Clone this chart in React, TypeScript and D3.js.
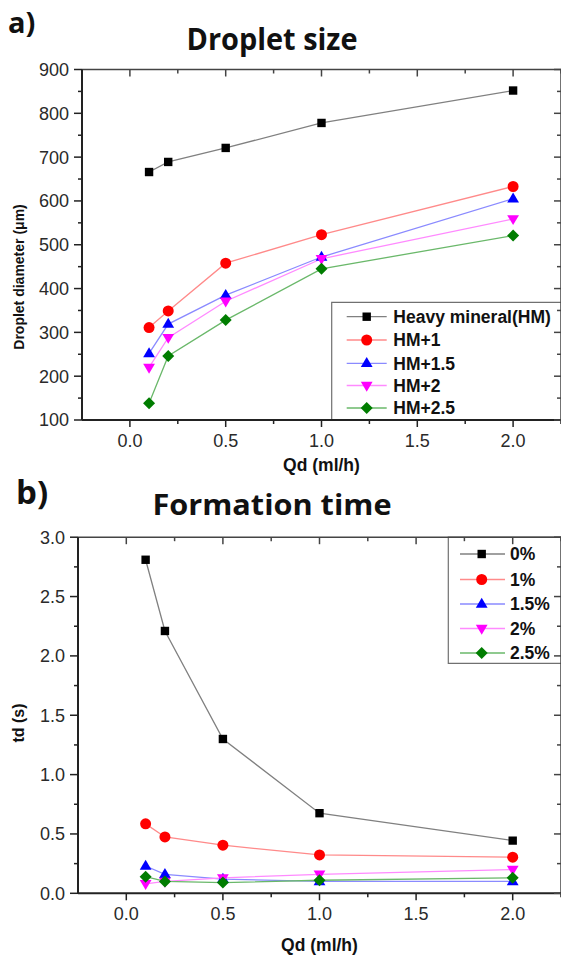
import React from "react";
import * as d3 from "d3";

const qd = [0.1, 0.2, 0.5, 1.0, 2.0];

const sizeNames = ["Heavy mineral(HM)", "HM+1", "HM+1.5", "HM+2", "HM+2.5"];
const sizeHM = [666, 689, 721, 778, 852];
const sizeHM1 = [311, 349, 458, 523, 633];
const sizeHM15 = [252, 319, 385, 472, 605];
const sizeHM2 = [220, 288, 371, 468, 559];
const sizeHM25 = [138, 246, 328, 445, 521];

const timeNames = ["0%", "1%", "1.5%", "2%", "2.5%"];
const time0 = [2.81, 2.21, 1.30, 0.675, 0.444];
const time1 = [0.585, 0.475, 0.405, 0.323, 0.304];
const time15 = [0.23, 0.16, 0.12, 0.10, 0.10];
const time2 = [0.08, 0.10, 0.13, 0.16, 0.20];
const time25 = [0.14, 0.10, 0.09, 0.11, 0.13];

const xTicks = [0.0, 0.5, 1.0, 1.5, 2.0];
const yTicksA = [100, 200, 300, 400, 500, 600, 700, 800, 900];
const yTicksB = [0.0, 0.5, 1.0, 1.5, 2.0, 2.5, 3.0];

const markerColors = ["#000000", "#ff0000", "#0000ff", "#ff00ff", "#007d00"];
const lineColors = ["#808080", "#ff8a8a", "#8a8aff", "#ff8aff", "#6ab86a"];
const shapes = ["square", "circle", "triangle", "down", "diamond"];

function markerPath(shape: string, cx: number, cy: number): string {
  const p = d3.path();
  if (shape === "square") {
    const h = 4.2;
    p.rect(cx - h, cy - h, 2 * h, 2 * h);
  } else if (shape === "circle") {
    p.arc(cx, cy, 5.5, 0, Math.PI * 2);
  } else if (shape === "triangle") {
    const s = 6.2;
    p.moveTo(cx, cy - s);
    p.lineTo(cx + s * 0.95, cy + s * 0.6);
    p.lineTo(cx - s * 0.95, cy + s * 0.6);
    p.closePath();
  } else if (shape === "down") {
    const s = 6.2;
    p.moveTo(cx, cy + s);
    p.lineTo(cx + s * 0.95, cy - s * 0.6);
    p.lineTo(cx - s * 0.95, cy - s * 0.6);
    p.closePath();
  } else {
    const s = 6;
    p.moveTo(cx, cy - s);
    p.lineTo(cx + s, cy);
    p.lineTo(cx, cy + s);
    p.lineTo(cx - s, cy);
    p.closePath();
  }
  return p.toString();
}

type PanelProps = {
  series: number[][];
  names: string[];
  x: d3.ScaleLinear<number, number>;
  y: d3.ScaleLinear<number, number>;
  yTicks: number[];
  yMinor: number[];
  yFmt: (v: number) => string;
  yLabel: string;
  yLabelSize: number;
  yLabelX: number;
  yLabelY: number;
  xTickLabelY: number;
  xLabelY: number;
  legendClosed: boolean;
  legend: { x0: number; y0: number; y1: number; rowY: number[]; lineX0: number; lineX1: number; mX: number; textX: number };
};

function Panel(p: PanelProps) {
  const { x, y } = p;
  const [x0, x1] = x.range();
  const [yb, yt] = y.range();
  const xMinor = d3.range(0, 2.26, 0.25);
  const line = d3.line<number>().x((_, i) => x(qd[i])).y((d) => y(d));
  const tickFont = "'Liberation Sans', Arial, sans-serif";
  return (
    <g>
      {p.series.map((s, si) => (
        <path key={"l" + si} d={line(s) || ""} fill="none" stroke={lineColors[si]} strokeWidth={1.3} />
      ))}
      {p.series.map((s, si) =>
        s.map((v, i) => (
          <path key={"m" + si + "-" + i} d={markerPath(shapes[si], x(qd[i]), y(v))} fill={markerColors[si]} />
        ))
      )}
      <path
        d={`M${x1},${p.legend.y0}H${p.legend.x0}V${p.legend.y1}${p.legendClosed ? "H" + x1 : ""}`}
        fill="none"
        stroke="#707070"
        strokeWidth={1.2}
      />
      {p.names.map((n, i) => (
        <g key={"lg" + i}>
          <line x1={p.legend.lineX0} x2={p.legend.lineX1} y1={p.legend.rowY[i]} y2={p.legend.rowY[i]} stroke={lineColors[i]} strokeWidth={1.3} />
          <path d={markerPath(shapes[i], p.legend.mX, p.legend.rowY[i])} fill={markerColors[i]} />
          <text x={p.legend.textX} y={p.legend.rowY[i]} dy="0.36em" fontFamily={tickFont} fontWeight="bold" fontSize={17.5} fill="#111">
            {n}
          </text>
        </g>
      ))}
      <line x1={x0} x2={x1} y1={yt} y2={yt} stroke="#444" strokeWidth={1.5} />
      <line x1={x1} x2={x1} y1={yt} y2={yb} stroke="#444" strokeWidth={1.5} />
      <line x1={x0} x2={x1} y1={yb} y2={yb} stroke="#222" strokeWidth={2} />
      <line x1={x0} x2={x0} y1={yt} y2={yb} stroke="#222" strokeWidth={2} />
      {xMinor.map((t, i) => {
        const major = Math.abs(t * 2 - Math.round(t * 2)) < 1e-6;
        const len = major ? 7 : 4;
        return (
          <g key={"xt" + i}>
            <line x1={x(t)} x2={x(t)} y1={yb} y2={yb + len} stroke="#222" strokeWidth={1.5} />
            <line x1={x(t)} x2={x(t)} y1={yt} y2={yt + len} stroke="#444" strokeWidth={1.5} />
          </g>
        );
      })}
      {xTicks.map((t) => (
        <text key={"xl" + t} x={x(t)} y={p.xTickLabelY} textAnchor="middle" fontFamily={tickFont} fontSize={18} fill="#2a2a2a">
          {t.toFixed(1)}
        </text>
      ))}
      {p.yMinor.map((t, i) => (
        <g key={"ym" + i}>
          <line x1={x0 - 4} x2={x0} y1={y(t)} y2={y(t)} stroke="#222" strokeWidth={1.5} />
          <line x1={x1 - 4} x2={x1} y1={y(t)} y2={y(t)} stroke="#444" strokeWidth={1.5} />
        </g>
      ))}
      {p.yTicks.map((t) => (
        <g key={"yt" + t}>
          <line x1={x0 - 8} x2={x0} y1={y(t)} y2={y(t)} stroke="#222" strokeWidth={1.5} />
          <line x1={x1 - 7} x2={x1} y1={y(t)} y2={y(t)} stroke="#444" strokeWidth={1.5} />
          <text x={x0 - 13} y={y(t)} dy="0.36em" textAnchor="end" fontFamily={tickFont} fontSize={18} fill="#2a2a2a">
            {p.yFmt(t)}
          </text>
        </g>
      ))}
      <text
        transform={`translate(${p.yLabelX},${p.yLabelY}) rotate(-90)`}
        textAnchor="middle"
        fontFamily={tickFont}
        fontWeight="bold"
        fontSize={p.yLabelSize}
        fill="#111"
      >
        {p.yLabel}
      </text>
      <text x={(x0 + x1) / 2} y={p.xLabelY} textAnchor="middle" fontFamily={tickFont} fontWeight="bold" fontSize={17.5} fill="#111">
        Qd (ml/h)
      </text>
    </g>
  );
}

export default function App() {
  const xA = d3.scaleLinear().domain([-0.25, 2.25]).range([82, 561]);
  const yA = d3.scaleLinear().domain([100, 900]).range([420, 69.5]);
  const xB = d3.scaleLinear().domain([-0.25, 2.25]).range([78, 561]);
  const yB = d3.scaleLinear().domain([0, 3]).range([893.3, 537.2]);
  const titleFont = "'Open Sans', 'Noto Sans', sans-serif";
  return (
    <svg width={561} height={955} style={{ position: "absolute", left: 0, top: 0, background: "#fff" }}>
      <rect x={0} y={0} width={561} height={955} fill="#fff" />
      <text x={8} y={33} fontFamily={titleFont} fontWeight="bold" fontSize={29} fill="#111">a)</text>
      <text x={272} y={50} textAnchor="middle" fontFamily={titleFont} fontWeight="bold" fontSize={30} textLength={171} lengthAdjust="spacingAndGlyphs" fill="#111">
        Droplet size
      </text>
      <text x={16} y={504} fontFamily={titleFont} fontWeight="bold" fontSize={33} fill="#111">b)</text>
      <text x={272} y={515} textAnchor="middle" fontFamily={titleFont} fontWeight="bold" fontSize={29} textLength={239} lengthAdjust="spacingAndGlyphs" fill="#111">
        Formation time
      </text>
      <Panel
        series={[sizeHM, sizeHM1, sizeHM15, sizeHM2, sizeHM25]}
        names={sizeNames}
        x={xA}
        y={yA}
        yTicks={yTicksA}
        yMinor={d3.range(150, 900, 100)}
        yFmt={(v) => String(v)}
        yLabel="Droplet diameter (μm)"
        yLabelSize={14}
        yLabelX={24}
        yLabelY={277}
        xTickLabelY={447}
        xLabelY={471}
        legendClosed={false}
        legend={{ x0: 331.7, y0: 302.3, y1: 420, rowY: [316.7, 340, 363.3, 385.5, 408], lineX0: 346.7, lineX1: 386.7, mX: 366.7, textX: 393.3 }}
      />
      <Panel
        series={[time0, time1, time15, time2, time25]}
        names={timeNames}
        x={xB}
        y={yB}
        yTicks={yTicksB}
        yMinor={d3.range(0.25, 3, 0.5)}
        yFmt={(v) => v.toFixed(1)}
        yLabel="td (s)"
        yLabelSize={16}
        yLabelX={24}
        yLabelY={723}
        xTickLabelY={920}
        xLabelY={951}
        legendClosed={true}
        legend={{ x0: 448.3, y0: 537.2, y1: 663.3, rowY: [554, 579.5, 604, 628.5, 653], lineX0: 460, lineX1: 505, mX: 481.7, textX: 510 }}
      />
    </svg>
  );
}
